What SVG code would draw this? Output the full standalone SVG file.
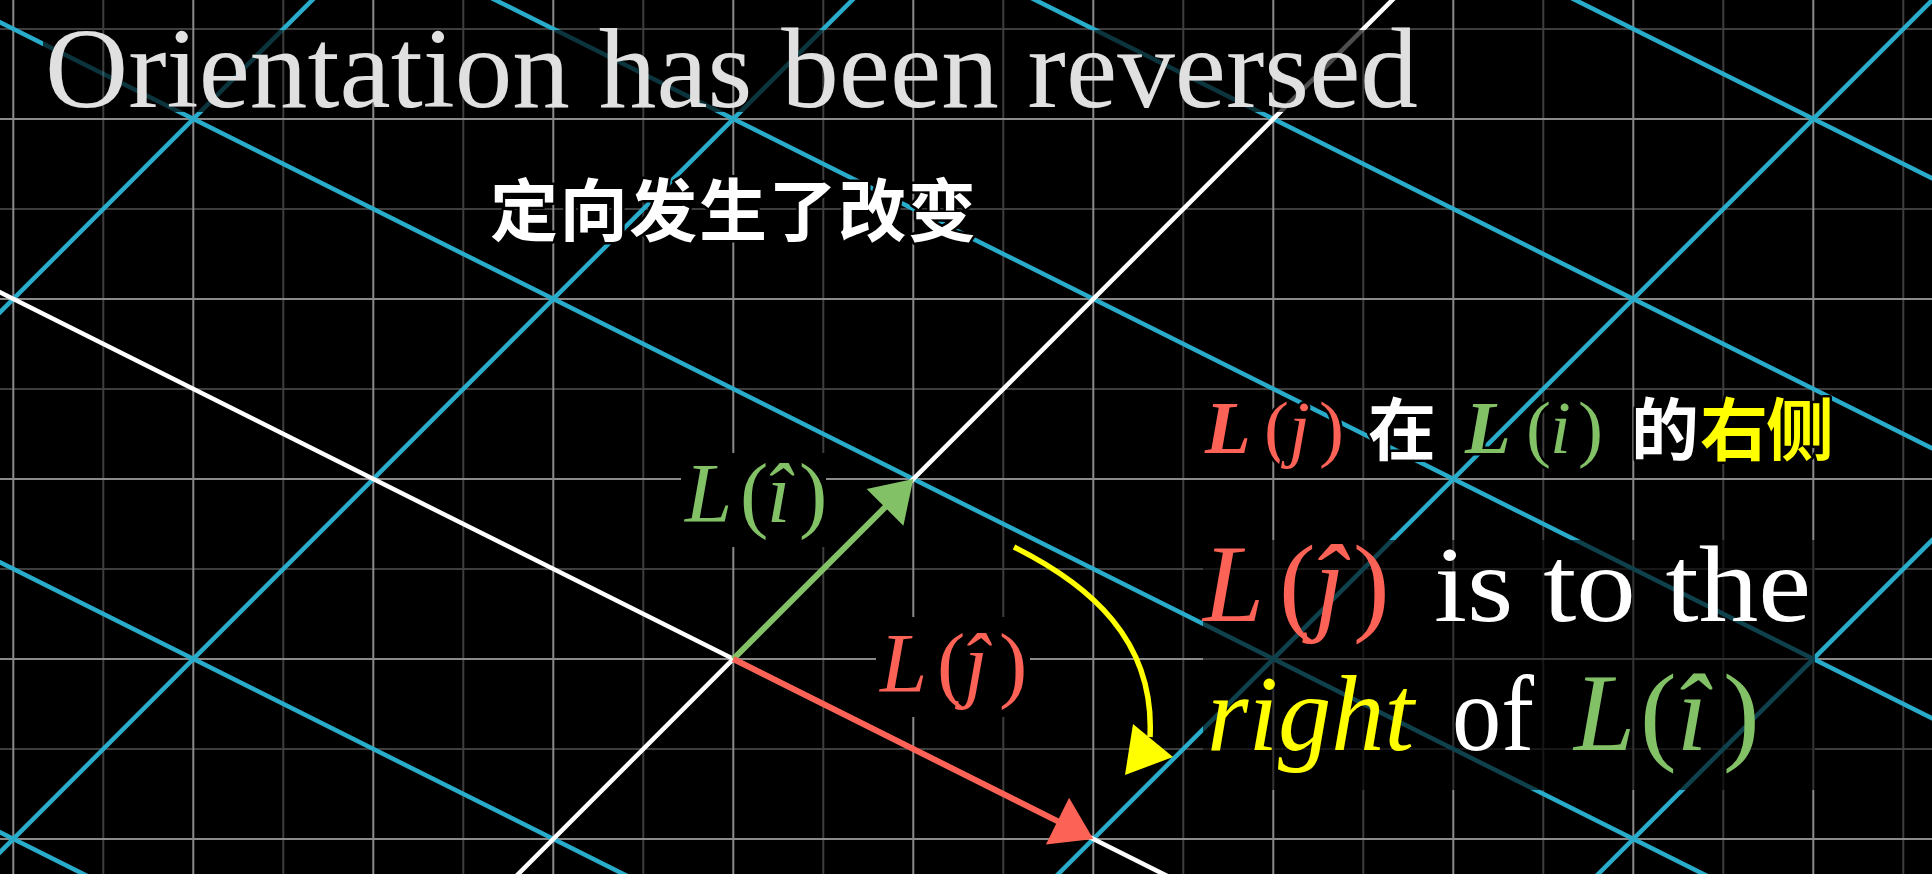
<svg xmlns="http://www.w3.org/2000/svg" width="1932" height="874" viewBox="0 0 1932 874">
<style>
.major{stroke:#8a8a8a;stroke-width:2;fill:none}
.minor{stroke:#3e3e3e;stroke-width:2;fill:none}
.blue{stroke:#29ABCA;stroke-width:4.5;fill:none}
.white{stroke:#ffffff;stroke-width:4.5;fill:none}
.serif{font-family:"Liberation Serif","DejaVu Serif",serif}
.it{font-style:italic}
.cjk{font-family:"Noto Sans CJK SC","Noto Sans CJK JP",sans-serif;font-weight:700}
.sub{stroke:#000;stroke-width:5;paint-order:stroke;stroke-linejoin:round}
.red{fill:#FC6255}
.green{fill:#83C167}
.yellow{fill:#FFFF00}
</style>
<defs>
<mask id="titleDim" maskUnits="userSpaceOnUse" x="0" y="0" width="1932" height="874">
<rect x="0" y="0" width="1932" height="874" fill="#fff"/>
<rect x="43" y="30" width="1380" height="82" fill="#4d4d4d"/>
</mask>
</defs>
<rect x="0" y="0" width="1932" height="874" fill="#000"/>
<g id="grid">
<path class="minor" d="M103.3 0V874M283.3 0V874M463.3 0V874M643.3 0V874M823.3 0V874M1003.3 0V874M1183.3 0V874M1363.3 0V874M1543.3 0V874M1723.3 0V874M1903.3 0V874M0 29H1932M0 209H1932M0 389H1932M0 569H1932M0 749H1932"/>
<path class="major" d="M13.3 0V874M193.3 0V874M373.3 0V874M553.3 0V874M733.3 0V874M913.3 0V874M1093.3 0V874M1273.3 0V874M1453.3 0V874M1633.3 0V874M1813.3 0V874M0 119H1932M0 299H1932M0 479H1932M0 659H1932M0 839H1932"/>
</g>
<g id="transformed-grid" mask="url(#titleDim)">
<path class="blue" d="M-200 512.3L2200 -1887.7M-200 1052.3L2200 -1347.7M-200 2132.3L2200 -267.7M-200 2672.3L2200 272.3"/>
<path class="blue" d="M-200 732.35L2200 1932.35M-200 462.35L2200 1662.35M-200 -77.65L2200 1122.35M-200 -347.65L2200 852.35M-200 -617.65L2200 582.35M-200 -887.65L2200 312.35"/>
<path class="white" d="M-200 1592.3L2200 -807.7M-200 192.35L2200 1392.35"/>
</g>
<g id="connectors">
<g id="vector-i">
<line x1="733.3" y1="659" x2="887" y2="505.3" stroke="#83C167" stroke-width="6"/>
<polygon points="913.3,479 903.4,525.7 866.6,488.9" fill="#83C167"/>
</g>
<g id="vector-j">
<line x1="733.3" y1="659" x2="1059.5" y2="822.1" stroke="#FC6255" stroke-width="6"/>
<polygon points="1093.3,839 1045.9,844.4 1069.1,797.8" fill="#FC6255"/>
</g>
<g id="rotation-arrow">
<path d="M1014 547C1090 585 1155 640 1150 737" stroke="#FFFF00" stroke-width="5.5" fill="none"/>
<polygon points="1125,775 1133,724 1173,757" fill="#FFFF00"/>
</g>
</g>
<g id="label-i">
<rect x="681" y="453" width="145" height="94" fill="#000"/>
<text class="serif green" font-size="85" y="522"><tspan class="it" x="685">L</tspan><tspan x="740">(</tspan><tspan class="it" x="767">î</tspan><tspan x="799">)</tspan></text>
</g>
<g id="label-j">
<rect x="876" y="617" width="154" height="100" fill="#000"/>
<text class="serif red" font-size="85" y="692"><tspan class="it" x="880">L</tspan><tspan x="937">(</tspan><tspan class="it" x="964">ĵ</tspan><tspan x="999">)</tspan></text>
</g>
<g id="title">
<text class="serif" x="45" y="107" font-size="115" fill="#e0e0e0" textLength="1373" lengthAdjust="spacingAndGlyphs">Orientation has been reversed</text>
</g>
<g id="subtitle-1">
<text class="cjk sub" x="490" y="236" font-size="68" fill="#fff" textLength="486">定向发生了改变</text>
</g>
<g id="subtitle-2">
<text class="serif sub red" font-size="75" y="453"><tspan class="it" font-weight="700" x="1205">L</tspan><tspan x="1264">(</tspan><tspan class="it" x="1289">j</tspan><tspan x="1319">)</tspan></text>
<text class="cjk sub" x="1368" y="455" font-size="68" fill="#fff">在</text>
<text class="serif sub green" font-size="75" y="453"><tspan class="it" font-weight="700" x="1465">L</tspan><tspan x="1526">(</tspan><tspan class="it" x="1550">i</tspan><tspan x="1578">)</tspan></text>
<text class="cjk sub" x="1631" y="455" font-size="68" fill="#fff">的</text>
<text class="cjk sub yellow" x="1700" y="455" font-size="68" textLength="134">右侧</text>
</g>
<g id="explanation">
<rect x="1203" y="540" width="612" height="250" fill="#000" fill-opacity="0.62"/>
<text class="serif red" font-size="110" y="621"><tspan class="it" x="1203">L</tspan><tspan x="1279">(</tspan><tspan class="it" x="1314">ĵ</tspan><tspan x="1353">)</tspan></text>
<text class="serif" x="1434" y="621" font-size="108" fill="#fff" textLength="377" lengthAdjust="spacingAndGlyphs">is to the</text>
<text class="serif it yellow" x="1207" y="750" font-size="108" textLength="207" lengthAdjust="spacingAndGlyphs">right</text>
<text class="serif" x="1452" y="750" font-size="108" fill="#fff" textLength="82" lengthAdjust="spacingAndGlyphs">of</text>
<text class="serif green" font-size="110" y="750"><tspan class="it" x="1574">L</tspan><tspan x="1640">(</tspan><tspan class="it" x="1677">î</tspan><tspan x="1723">)</tspan></text>
</g>
</svg>
